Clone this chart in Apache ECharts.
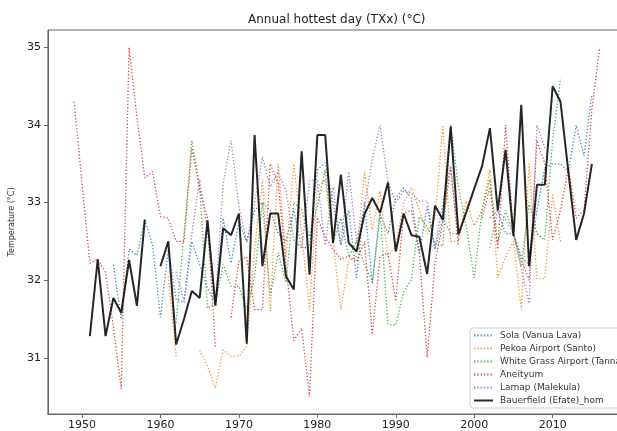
<!DOCTYPE html>
<html>
<head>
<meta charset="utf-8">
<script src="https://cdn.jsdelivr.net/npm/echarts@6/dist/echarts.min.js"></script>
<style>html,body{margin:0;padding:0;background:#fff;overflow:hidden}#c{width:627px;height:431px}</style>
</head>
<body>
<div id="c"></div>
<script>
var startYear = 1949;
var xTicks = [1950, 1960, 1970, 1980, 1990, 2000, 2010];
var yTicks = [31, 32, 33, 34, 35];
var seriesNames = ['Sola (Vanua Lava)', 'Pekoa Airport (Santo)', 'White Grass Airport (Tanna)', 'Aneityum', 'Lamap (Malekula)', 'Bauerfield (Efate)_hom'];

// values by year starting 1949 (null = missing)
var sola = [null,null,null,null,null,32.2,31.5,32.4,32.32,32.78,32.45,
  31.52,32.4,31.75,31.71,32.5,32.2,31.9,31.7,32.8,32.22,
  32.75,32.5,32.9,33.0,32.9,32.6,32.5,32.9,32.42,32.42,
  33.42,33.51,33.0,32.45,32.9,32.03,33.0,31.95,32.85,32.6,
  33.06,33.19,33.05,32.35,32.95,32.4,32.8,32.6,32.6,null,
  null,null,32.8,32.9,32.6,32.6,32.3,32.2,32.9,33.45,
  33.5,33.5,33.4,34.0,33.6,34.4,null];
var pekoa = [null,null,null,null,null,null,null,null,null,null,null,
  null,32.05,31.02,null,null,31.1,30.89,30.61,31.1,31.02,
  31.02,31.15,32.4,33.3,31.6,33.5,32.3,33.5,32.6,31.62,
  33.2,33.3,32.5,31.62,32.25,32.3,33.4,32.65,33.15,32.3,
  32.45,33.0,33.19,32.9,32.6,32.8,34.0,32.5,32.5,33.02,
  32.7,32.9,33.42,32.03,32.3,32.5,31.62,33.5,32.02,32.02,
  33.1,32.5,null,null,null,null,null];
var whiteGrass = [null,null,null,null,null,null,null,null,null,null,null,
  null,null,31.45,32.6,33.8,33.2,31.64,31.7,32.2,31.92,
  31.92,31.62,32.05,33.0,31.8,32.35,31.97,33.0,32.91,32.56,
  32.95,33.42,32.48,32.8,32.3,32.5,32.2,31.98,32.9,31.43,
  31.42,31.85,32.01,32.82,32.69,32.48,32.44,34.0,33.19,32.69,
  32.03,32.91,33.3,32.48,32.9,32.6,32.18,33.0,32.6,32.52,
  33.81,34.6,null,null,null,null,null];
var aneityum = [34.3,33.25,32.22,32.27,32.1,31.4,30.6,35.0,34.1,33.32,33.4,
  32.82,32.8,32.5,32.5,33.7,33.16,32.8,31.13,null,31.52,
  32.25,32.3,31.62,31.62,33.5,33.25,32.2,31.22,31.38,30.5,
  32.81,32.55,32.4,32.27,32.31,32.24,32.5,31.3,32.3,32.35,
  31.73,32.86,32.9,32.35,31.0,32.22,32.74,33.45,32.44,null,
  null,32.8,33.2,32.4,34.0,32.6,32.26,32.0,33.8,33.5,
  32.52,32.9,33.45,32.8,32.9,34.2,35.0];
var lamap = [null,null,null,null,null,null,null,null,null,null,null,
  null,null,32.11,31.73,32.6,33.3,32.6,31.7,33.25,33.8,
  32.95,32.48,33.0,33.59,33.2,33.4,33.15,32.52,32.41,33.28,
  33.3,32.45,33.2,32.45,33.4,32.5,32.95,33.55,34.0,33.27,
  33.0,33.15,33.12,33.02,33.02,32.41,32.99,33.5,32.52,null,
  null,null,32.42,32.9,32.78,32.6,32.14,31.7,34.0,33.7,
  null,null,null,null,null,null,null];
var bauerfield = [null,null,31.28,32.27,31.28,31.77,31.58,32.26,31.67,32.78,null,
  32.18,32.5,31.17,31.5,31.86,31.77,32.77,31.67,32.67,32.58,
  32.86,31.18,33.87,32.18,32.86,32.86,32.05,31.88,33.66,32.07,
  33.87,33.87,32.48,33.36,32.48,32.37,32.85,33.06,32.87,33.26,
  32.37,32.86,32.58,32.56,32.08,32.96,32.78,33.98,32.59,32.88,
  33.18,33.47,33.96,32.9,33.68,32.57,34.26,32.18,33.23,33.23,
  34.5,34.3,33.4,32.52,32.86,33.5,null];

var colors = ['#1f77b4', '#ff7f0e', '#2ca02c', '#d62728', '#9467bd', '#000000'];
var allData = [sola, pekoa, whiteGrass, aneityum, lamap, bauerfield];

function pairs(arr) {
  return arr.map(function (v, i) { return [startYear + i, v]; });
}

var series = allData.map(function (arr, k) {
  var isHom = (k === 5);
  return {
    name: seriesNames[k],
    type: 'line',
    data: pairs(arr),
    showSymbol: false,
    symbol: 'none',
    connectNulls: false,
    z: isHom ? 10 : 2,
    lineStyle: {
      color: colors[k],
      width: isHom ? 2 : 1.3,
      type: isHom ? 'solid' : [1.3, 2],
      opacity: 0.85
    },
    itemStyle: { color: colors[k] },
    emphasis: { disabled: true }
  };
});

var chart = echarts.init(document.getElementById('c'), null, { renderer: 'canvas' });
chart.setOption({
  animation: false,
  backgroundColor: '#fff',
  grid: { left: 46, top: 30, bottom: 17, right: 1, show: true, borderColor: '#666', borderWidth: 1, backgroundColor: 'transparent' },
  graphic: [{
    type: 'text', left: 248, top: 14,
    style: { text: 'Annual hottest day (TXx) (°C)', font: '12px "DejaVu Sans"', fill: '#222' }
  }],
  legend: {
    orient: 'vertical', left: 470, top: 328,
    itemWidth: 19, itemHeight: 8, itemGap: 4,
    padding: [3, 6, 3, 3],
    itemStyle: { opacity: 0 },
    backgroundColor: '#fff', borderColor: '#ccc', borderWidth: 1, borderRadius: 3,
    textStyle: { fontSize: 9, color: '#333', fontFamily: 'DejaVu Sans', padding: [0, 0, 0, 2] },
    data: seriesNames
  },
  xAxis: {
    type: 'value', min: 1945.65, max: 2019.35,
    axisLine: { show: true, lineStyle: { color: '#666' } },
    axisTick: { show: true, length: 4, lineStyle: { color: '#666' }, customValues: xTicks },
    axisLabel: { fontSize: 11, color: '#222', fontFamily: 'DejaVu Sans', margin: 6, customValues: xTicks,
      formatter: function (v) { return String(Math.round(v)); } },
    splitLine: { show: false }
  },
  yAxis: {
    type: 'value', min: 30.275, max: 35.225,
    name: 'Temperature (°C)', nameLocation: 'middle', nameGap: 25, nameRotate: 90,
    nameTextStyle: { fontSize: 8, color: '#333', fontFamily: 'DejaVu Sans' },
    axisLine: { show: true, lineStyle: { color: '#666' } },
    axisTick: { show: true, length: 4, lineStyle: { color: '#666' }, customValues: yTicks },
    axisLabel: { fontSize: 11, color: '#222', fontFamily: 'DejaVu Sans', margin: 7, customValues: yTicks,
      formatter: function (v) { return String(Math.round(v)); } },
    splitLine: { show: false }
  },
  series: series
});
</script>
</body>
</html>
